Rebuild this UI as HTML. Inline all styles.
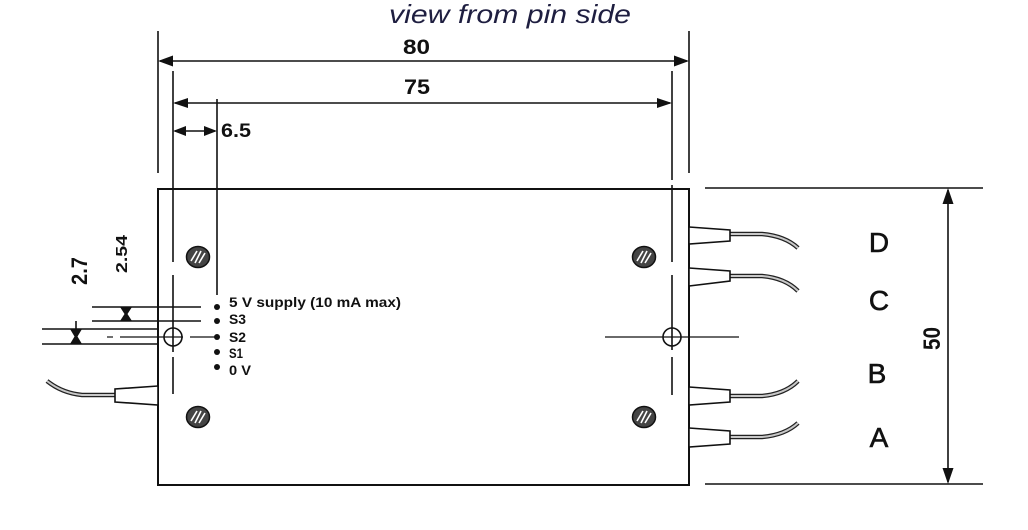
<!DOCTYPE html>
<html><head><meta charset="utf-8"><style>
html,body{margin:0;padding:0;background:#fff;}
svg{display:block;}
text{font-family:"Liberation Sans",Arial,sans-serif;}
</style></head><body>
<svg width="1028" height="530" viewBox="0 0 1028 530" xmlns="http://www.w3.org/2000/svg">
<rect width="1028" height="530" fill="#fff"/>
<!-- title -->
<text x="389" y="23" font-size="26" font-style="italic" fill="#1e1e40" textLength="242" lengthAdjust="spacingAndGlyphs">view from pin side</text>

<g stroke="#111" stroke-width="1.6" fill="none">
  <!-- extension lines -->
  <line x1="158" y1="31" x2="158" y2="173"/>
  <line x1="689" y1="31" x2="689" y2="173"/>
  <line x1="173" y1="71" x2="173" y2="262"/>
  <line x1="672" y1="71" x2="672" y2="180"/>
  <line x1="672" y1="185" x2="672" y2="262"/>
  <line x1="217" y1="99" x2="217" y2="295"/>
  <!-- dim lines -->
  <line x1="160" y1="61" x2="687" y2="61"/>
  <line x1="175" y1="103" x2="670" y2="103"/>
  <line x1="175" y1="131" x2="215" y2="131"/>
  <line x1="948" y1="190" x2="948" y2="482"/>
  <!-- 50 extension lines -->
  <line x1="705" y1="188" x2="983" y2="188"/>
  <line x1="705" y1="484" x2="983" y2="484"/>
  <!-- centerlines left -->
  <line x1="173" y1="275" x2="173" y2="352"/>
  <line x1="173" y1="357" x2="173" y2="394"/>
  <line x1="107" y1="337" x2="113" y2="337" stroke-width="1.2"/>
  <line x1="120" y1="337" x2="183" y2="337" stroke-width="1.2"/>
  <line x1="190" y1="337" x2="217" y2="337" stroke-width="1.2"/>
  <circle cx="173" cy="337" r="9"/>
  <!-- centerlines right -->
  <line x1="672" y1="275" x2="672" y2="350"/>
  <line x1="672" y1="357" x2="672" y2="395"/>
  <line x1="605" y1="337" x2="739" y2="337" stroke-width="1.2"/>
  <circle cx="672" cy="337" r="9"/>
  <!-- 2.54 dim -->
  <line x1="92" y1="307" x2="201" y2="307"/>
  <line x1="92" y1="321" x2="201" y2="321"/>
  <!-- 2.7 dim -->
  <line x1="42" y1="329" x2="158" y2="329"/>
  <line x1="42" y1="344" x2="158" y2="344"/>
  <line x1="76" y1="321" x2="76" y2="329"/>
</g>

<!-- box -->
<rect x="158" y="189" width="531" height="296" fill="none" stroke="#111" stroke-width="2"/>

<!-- arrowheads -->
<g fill="#111">
  <polygon points="158,61 173,55.5 173,66.5"/>
  <polygon points="689,61 674,55.5 674,66.5"/>
  <polygon points="173,103 188,98 188,108"/>
  <polygon points="672,103 657,98 657,108"/>
  <polygon points="173,131 186,126 186,136"/>
  <polygon points="217,131 204,126 204,136"/>
  <polygon points="948,188 942.5,204 953.5,204"/>
  <polygon points="948,484 942.5,468 953.5,468"/>
  <polygon points="120,307 132,307 127.5,314 132,321 120,321 124.5,314"/>
  <polygon points="70,329 82,329 77.5,336.5 82,344 70,344 74.5,336.5"/>
  <!-- pin dots -->
  <circle cx="217" cy="307" r="3"/>
  <circle cx="217" cy="321" r="3"/>
  <circle cx="217" cy="337" r="3"/>
  <circle cx="217" cy="352" r="3"/>
  <circle cx="217" cy="367" r="3"/>
</g>

<!-- screws -->
<g>
  <g transform="translate(198,257)">
    <ellipse rx="11.5" ry="10.5" fill="#444" stroke="#111" stroke-width="1.5"/>
    <g stroke="#fff" stroke-width="1.6"><line x1="-7" y1="4" x2="-1" y2="-6"/><line x1="-3" y1="6" x2="3" y2="-6"/><line x1="1" y1="6" x2="7" y2="-4"/></g>
  </g>
  <g transform="translate(198,417)">
    <ellipse rx="11.5" ry="10.5" fill="#444" stroke="#111" stroke-width="1.5"/>
    <g stroke="#fff" stroke-width="1.6"><line x1="-7" y1="4" x2="-1" y2="-6"/><line x1="-3" y1="6" x2="3" y2="-6"/><line x1="1" y1="6" x2="7" y2="-4"/></g>
  </g>
  <g transform="translate(644,257)">
    <ellipse rx="11.5" ry="10.5" fill="#444" stroke="#111" stroke-width="1.5"/>
    <g stroke="#fff" stroke-width="1.6"><line x1="-7" y1="4" x2="-1" y2="-6"/><line x1="-3" y1="6" x2="3" y2="-6"/><line x1="1" y1="6" x2="7" y2="-4"/></g>
  </g>
  <g transform="translate(644,417)">
    <ellipse rx="11.5" ry="10.5" fill="#444" stroke="#111" stroke-width="1.5"/>
    <g stroke="#fff" stroke-width="1.6"><line x1="-7" y1="4" x2="-1" y2="-6"/><line x1="-3" y1="6" x2="3" y2="-6"/><line x1="1" y1="6" x2="7" y2="-4"/></g>
  </g>
</g>

<!-- wires -->
<g fill="none" stroke="#222" stroke-width="4.5" stroke-linecap="butt">
  <path d="M730,234 L762,234 Q785,236 798,248"/>
  <path d="M730,276 L762,276 Q785,278 798,291"/>
  <path d="M730,396 L762,396 Q785,394 798,381"/>
  <path d="M730,437 L762,437 Q785,435 798,423"/>
  <path d="M115,395 L82,395 Q62,393 47,381"/>
</g>
<g fill="none" stroke="#c8c8c8" stroke-width="2" stroke-linecap="butt">
  <path d="M730,234 L762,234 Q785,236 798,248"/>
  <path d="M730,276 L762,276 Q785,278 798,291"/>
  <path d="M730,396 L762,396 Q785,394 798,381"/>
  <path d="M730,437 L762,437 Q785,435 798,423"/>
  <path d="M115,395 L82,395 Q62,393 47,381"/>
</g>
<!-- connectors -->
<g fill="#fff" stroke="#111" stroke-width="1.6">
  <polygon points="689,227 730,230 730,241 689,244"/>
  <polygon points="689,268 730,271 730,281 689,286"/>
  <polygon points="689,387 730,390 730,402 689,405"/>
  <polygon points="689,428 730,431 730,444 689,447"/>
  <polygon points="158,386 115,389 115,402 158,405"/>
</g>

<!-- dimension texts -->
<g font-weight="bold" fill="#111">
  <text x="403" y="54" font-size="21" textLength="27" lengthAdjust="spacingAndGlyphs">80</text>
  <text x="404" y="94" font-size="21" textLength="26" lengthAdjust="spacingAndGlyphs">75</text>
  <text x="221" y="137" font-size="19" textLength="30" lengthAdjust="spacingAndGlyphs">6.5</text>
  <text transform="translate(127,273) rotate(-90)" font-size="16" textLength="38" lengthAdjust="spacingAndGlyphs">2.54</text>
  <text transform="translate(87,285) rotate(-90)" font-size="22" textLength="28" lengthAdjust="spacingAndGlyphs">2.7</text>
  <text transform="translate(940,350) rotate(-90)" font-size="24" textLength="23" lengthAdjust="spacingAndGlyphs">50</text>
  <!-- pin labels -->
  <text x="229" y="307" font-size="13.5" textLength="172" lengthAdjust="spacingAndGlyphs">5 V supply (10 mA max)</text>
  <text x="229" y="324" font-size="13.5" textLength="17" lengthAdjust="spacingAndGlyphs">S3</text>
  <text x="229" y="342" font-size="13.5" textLength="17" lengthAdjust="spacingAndGlyphs">S2</text>
  <text x="229" y="358" font-size="13.5" textLength="14" lengthAdjust="spacingAndGlyphs">S1</text>
  <text x="229" y="375" font-size="13.5" textLength="22" lengthAdjust="spacingAndGlyphs">0 V</text>
</g>

<!-- channel letters -->
<g font-size="28" fill="#111" stroke="#111" stroke-width="0.6" text-anchor="middle">
  <text x="879" y="252">D</text>
  <text x="879" y="310">C</text>
  <text x="877" y="383">B</text>
  <text x="879" y="447">A</text>
</g>
</svg>
</body></html>
